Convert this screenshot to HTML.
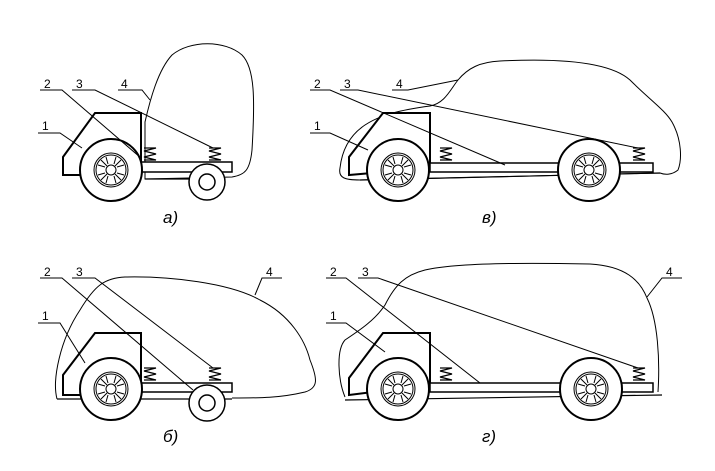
<!DOCTYPE html>
<html><head><meta charset="utf-8"><style>body{margin:0;background:#fff}svg{display:block}</style></head>
<body>
<svg width="715" height="471" viewBox="0 0 715 471" xmlns="http://www.w3.org/2000/svg" font-family="Liberation Sans, sans-serif">
<defs>
<g id="wh">
<circle r="31" fill="#fff" stroke="#000" stroke-width="2"/>
<circle r="17" fill="none" stroke="#000" stroke-width="1"/>
<circle r="15" fill="none" stroke="#000" stroke-width="1"/>
<circle r="5" fill="none" stroke="#000" stroke-width="1"/>
<g stroke="#000" stroke-width="1" fill="none">
<path d="M-3,-6 L-5,-13 M3,-6 L5,-13 M-6,-3 L-13,-5 M-6,3 L-13,5 M6,-3 L13,-5 M6,3 L13,5 M-3,6 L-5,13 M3,6 L5,13 M-4,-4 L-10,-10 M4,4 L10,10 M4,-4 L10,-10 M-4,4 L-10,10"/>
</g>
</g>
<path id="sp" d="M0,0 h12 l-12,3 l12,3 l-12,3 l12,3 h-12" fill="none" stroke="#000" stroke-width="1.3"/>
</defs>
<g fill="none" stroke="#000">
<!-- Panel a -->
<path d="M145,179 L145,122 C150,100 158,70 172,55 C190,40 225,40 242,55 C255,68 255,100 252,150 C250,170 245,175 232,177 Z" stroke-width="1"/>
<path d="M145,179 L200,179" stroke-width="1.2"/>
<polygon points="63,175 63,157 95,113 141,113 141,175" stroke-width="2" fill="#fff"/>
<rect x="141" y="162" width="91" height="10" stroke-width="1.5" fill="#fff"/>
<use href="#sp" x="144" y="148"/><use href="#sp" x="209" y="148"/>
<use href="#wh" x="111" y="170"/>
<circle cx="207" cy="182" r="18" stroke-width="1.5" fill="#fff"/><circle cx="207" cy="182" r="8" stroke-width="1.5"/>
<!-- Panel v -->
<path d="M360,180 C345,180 338,178 340,168 C342,150 350,135 365,125 C380,115 400,110 430,106 C445,103 450,90 458,80 C468,68 480,62 500,61 C560,58 610,62 630,80 C650,100 665,110 672,122 C682,140 682,160 678,170 C672,175 665,175 660,173 Z" stroke-width="1"/>
<path d="M360,180 L660,173" stroke-width="1.2"/>
<polygon points="349,175 349,157 383,113 430,113 430,168" stroke-width="2" fill="#fff"/>
<rect x="430" y="163" width="223" height="9" stroke-width="1.5" fill="#fff"/>
<use href="#sp" x="440" y="148"/><use href="#sp" x="633" y="148"/>
<use href="#wh" x="398" y="170"/><use href="#wh" x="589" y="170"/>
<!-- Panel b -->
<path d="M57,399 C52,380 60,340 80,310 C95,285 105,278 125,277 C170,276 230,283 260,300 C290,315 305,340 310,360 C318,380 318,388 305,392 C280,398 260,398 232,398" stroke-width="1"/>
<path d="M57,399 L232,399" stroke-width="1.2"/>
<polygon points="63,395 63,375 95,333 141,333 141,395" stroke-width="2" fill="#fff"/>
<rect x="141" y="383" width="91" height="9" stroke-width="1.5" fill="#fff"/>
<use href="#sp" x="144" y="368"/><use href="#sp" x="209" y="368"/>
<use href="#wh" x="111" y="389"/>
<circle cx="207" cy="403" r="18" stroke-width="1.5" fill="#fff"/><circle cx="207" cy="403" r="8" stroke-width="1.5"/>
<!-- Panel g -->
<path d="M345,397 C338,380 336,350 345,340 C360,330 375,320 385,305 C395,285 405,275 425,270 C460,262 540,263 590,264 C625,266 640,280 647,298 C658,320 660,360 658,392" stroke-width="1"/>
<path d="M345,400 L662,395" stroke-width="1.2"/>
<polygon points="349,395 349,378 383,333 430,333 430,385" stroke-width="2" fill="#fff"/>
<rect x="430" y="383" width="223" height="9" stroke-width="1.5" fill="#fff"/>
<use href="#sp" x="440" y="368"/><use href="#sp" x="633" y="368"/>
<use href="#wh" x="398" y="389"/><use href="#wh" x="591" y="389"/>
<!-- leaders -->
<g stroke-width="1">
<path d="M38,133 H60 L82,148"/><path d="M40,90 H62 L141,158"/><path d="M72,90 H95 L213,148"/><path d="M118,90 H142 L150,100"/>
<path d="M310,133 H330 L368,150"/><path d="M310,90 H330 L505,165"/><path d="M340,90 H358 L638,148"/><path d="M392,90 H408 L458,80"/>
<path d="M38,323 H60 L85,363"/><path d="M40,278 H62 L193,390"/><path d="M72,278 H95 L213,368"/><path d="M282,278 H262 L255,295"/>
<path d="M326,323 H346 L385,352"/><path d="M326,278 H346 L480,383"/><path d="M358,278 H378 L638,368"/><path d="M682,278 H662 L647,297"/>
</g>
</g>
<g font-size="12" fill="#000">
<text x="44" y="88">2</text><text x="76" y="88">3</text><text x="121" y="88">4</text><text x="42" y="130">1</text>
<text x="314" y="88">2</text><text x="344" y="88">3</text><text x="396" y="88">4</text><text x="314" y="130">1</text>
<text x="44" y="276">2</text><text x="76" y="276">3</text><text x="266" y="276">4</text><text x="42" y="320">1</text>
<text x="330" y="276">2</text><text x="362" y="276">3</text><text x="666" y="276">4</text><text x="330" y="320">1</text>
</g>
<g font-size="17" font-style="italic" fill="#000">
<text x="163" y="223">а)</text><text x="482" y="223">в)</text><text x="163" y="442">б)</text><text x="482" y="442">г)</text>
</g>
</svg>
</body></html>
